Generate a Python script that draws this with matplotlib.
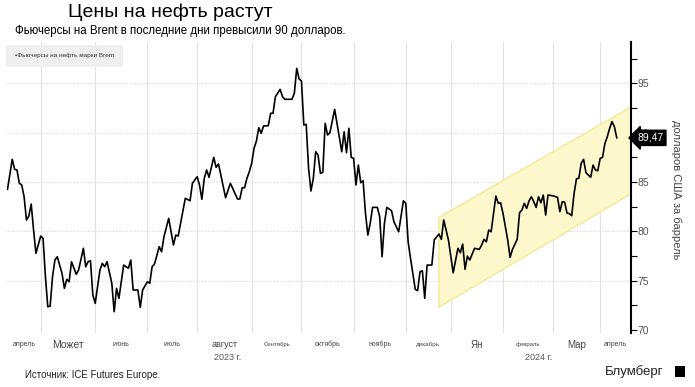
import numpy as np
import pandas as pd
import matplotlib.pyplot as plt
from matplotlib.patches import Polygon, Rectangle

# --- DATI ---
# calendario delle sedute ICE (giorni lavorativi senza festivita')
holidays = ["2023-12-25", "2023-12-26", "2024-01-01", "2024-03-29"]
days = pd.bdate_range("2023-04-11", "2024-04-30", freq="C", holidays=holidays)

# vertici della serie: numero di seduta dall'11 aprile 2023 e prezzo Brent
trade_day = [0, 2, 3, 4, 5, 6, 7, 8, 9, 10, 11, 12, 14, 15, 16, 17, 18, 19, 20, 21,
             23, 24, 25, 26, 27, 29, 30, 32, 33, 34, 35, 36, 37, 39, 40, 41, 42, 44, 45,
             46, 47, 49, 51, 52, 53, 55, 56, 57, 59, 60, 61, 62, 64, 65, 66, 68, 70, 71,
             72, 73, 75, 77, 78, 80, 81, 82, 83, 84, 85, 87, 88, 89, 90, 92, 94, 95, 97,
             98, 99, 100, 101, 102, 103, 104, 105, 106, 107, 108, 110, 111, 112, 113, 115,
             116, 117, 120, 121, 122, 123, 124, 125, 126, 127, 128, 129, 130, 131, 132,
             133, 134, 135, 136, 138, 141, 142, 143, 144, 145, 146, 147, 148, 149, 150,
             151, 152, 153, 154, 156, 157, 158, 159, 160, 162, 163, 165, 167, 168, 169,
             170, 172, 173, 174, 175, 176, 177, 179, 180, 182, 183, 184, 186, 188, 190,
             191, 192, 193, 194, 195, 197, 199, 200, 201, 202, 203, 204, 206, 207, 208,
             209, 211, 212, 213, 215, 216, 217, 218, 219, 220, 221, 222, 223, 224, 225,
             226, 227, 228, 230, 232, 233, 234, 235, 236, 237, 238, 239, 240, 241, 242,
             243, 244, 246, 247, 248, 249, 250, 251, 252, 253, 254, 255, 256, 257]
brent = [84.25, 87.29, 86.28, 86.21, 84.86, 84.69, 83.50, 81.14, 81.54, 82.76, 80.12,
         77.76, 79.51, 79.28, 75.39, 72.34, 72.41, 75.39, 77.08, 77.41, 75.73, 74.21,
         75.12, 74.88, 76.91, 75.63, 76.07, 78.27, 76.40, 76.91, 77.01, 73.53, 72.69,
         76.07, 76.74, 76.40, 76.91, 74.72, 71.84, 74.21, 73.19, 76.57, 76.24, 77.08,
         74.04, 74.04, 72.28, 74.04, 74.88, 74.72, 76.40, 76.67, 78.43, 77.92, 79.44,
         81.31, 78.60, 79.61, 79.51, 80.80, 83.34, 83.09, 84.86, 85.53, 84.69, 83.24,
         85.37, 86.21, 85.47, 87.49, 86.48, 86.82, 85.70, 83.40, 84.86, 84.35, 83.27,
         83.27, 84.41, 84.41, 85.37, 86.03, 86.89, 88.41, 89.15, 90.50, 89.93, 90.67,
         90.70, 91.96, 91.96, 93.64, 94.39, 93.64, 93.38, 93.38, 93.99, 96.52, 95.44,
         95.23, 90.77, 90.84, 86.38, 84.08, 85.37, 88.06, 87.73, 85.87, 85.97, 90.94,
         89.76, 89.99, 92.36, 88.06, 90.09, 87.96, 90.44, 87.49, 87.39, 84.69, 86.71,
         84.92, 85.12, 81.82, 79.61, 80.80, 82.42, 82.42, 81.47, 77.41, 80.80, 82.42,
         82.08, 80.96, 79.95, 83.09, 82.83, 78.93, 77.25, 74.11, 73.97, 75.89, 75.99,
         73.19, 76.57, 76.57, 79.11, 79.72, 79.18, 81.14, 79.11, 75.79, 78.27, 77.82,
         78.70, 76.14, 77.48, 77.08, 78.27, 78.16, 78.60, 79.18, 78.93, 80.12, 79.95,
         83.57, 82.83, 82.89, 81.82, 79.11, 77.35, 78.16, 79.18, 81.88, 82.15, 82.83,
         82.32, 83.09, 83.50, 82.99, 82.42, 83.50, 82.89, 83.67, 81.64, 83.67, 83.60,
         83.44, 81.98, 82.99, 82.96, 81.85, 81.78, 81.58, 83.84, 85.32, 85.37, 86.89,
         87.29, 85.93, 85.47, 86.71, 86.21, 86.14, 87.39, 87.49, 88.91, 89.58, 90.44,
         91.11, 90.60, 89.47]

# canale rialzista (inizio/fine in sedute, bordo superiore e inferiore)
channel_day = [182, 263]
channel_top = [81.4, 92.6]
channel_bottom = [72.3, 83.8]

month_labels = ["апрель", "Может", "июнь", "июль", "август", "Сентябрь", "октябрь",
                "ноябрь", "декабрь", "Ян", "февраль", "Мар", "апрель"]
month_sizes = [5, 7.5, 5, 5, 6.5, 4.3, 5, 5, 4.5, 7, 4.3, 7, 5]
year_labels = ["2023 г.", "2024 г."]
year_day = [93, 224]

last_value = brent[-1]
x_max = 263

plt.rcParams["font.family"] = ["Liberation Sans", "DejaVu Sans"]

fig = plt.figure(figsize=(6.95, 3.87), dpi=100)
ax = fig.add_axes([0.0101, 0.1395, 0.8978, 0.752])

# canale giallo
poly = [(channel_day[0], channel_bottom[0]), (channel_day[1], channel_bottom[1]),
        (channel_day[1], channel_top[1]), (channel_day[0], channel_top[0])]
ax.add_patch(Polygon(poly, closed=True, facecolor="#fcf8cc", edgecolor="#f2eca0",
                     lw=1.2, zorder=1))

ax.plot(trade_day, brent, color="black", lw=1.2, zorder=3)

# griglia mensile sui primi giorni di borsa di ogni mese
first_idx = pd.Series(np.arange(len(days)), index=days).groupby(
    [days.year, days.month]).first().values
first_idx = [i for i in first_idx if 0 < i < x_max]
for i in first_idx:
    ax.axvline(i, color="#e2e2e2", lw=0.8, zorder=0)
for v in [75, 80, 85, 90, 95]:
    ax.axhline(v, color="#d6d6d6", lw=0.8, ls=(0, (1, 1.5)), zorder=0)

ax.set_xlim(-0.2, x_max)
ax.set_ylim(69.68, 99.19)

for s in ["left", "top", "bottom"]:
    ax.spines[s].set_visible(False)
ax.spines["right"].set_linewidth(1.5)
ax.yaxis.tick_right()
ax.set_yticks([70, 75, 80, 85, 90, 95])
ax.set_yticks(np.arange(72.5, 99, 5), minor=True)
ax.tick_params(axis="y", which="both", direction="out", length=4, width=0.8,
               labelsize=7.5, labelcolor="#555555", pad=1)
ax.set_xticks([])

# etichette dei mesi centrate nel mese
bounds = [0] + first_idx + [x_max]
for k, lab in enumerate(month_labels):
    c = (bounds[k] + bounds[k + 1]) / 2
    ax.text(c, -0.04, lab, transform=ax.get_xaxis_transform(), ha="center",
            va="center", fontsize=month_sizes[k], color="#444444")
for lab, d in zip(year_labels, year_day):
    ax.text(d, -0.083, lab, transform=ax.get_xaxis_transform(), ha="center",
            va="center", fontsize=6.5, color="#555555")

# valore finale
ax.text(1.01, last_value, "89,47", transform=ax.get_yaxis_transform(), ha="left",
        va="center", fontsize=7.5, color="white",
        bbox=dict(boxstyle="larrow,pad=0.25", fc="black", ec="black"), zorder=5)

# legenda
ax.text(0.012, 0.952, "•Фьючерсы на нефть марки Brent", transform=ax.transAxes,
        fontsize=4.6, color="#333333", va="center", ha="left",
        bbox=dict(boxstyle="square,pad=1.4", fc="#efefef", ec="none"))

fig.text(0.973, 0.509, "долларов США за баррель", rotation=270, ha="center",
         va="center", fontsize=8, color="#444444")

fig.text(0.0975, 0.968, "Цены на нефть растут", fontsize=14, ha="left", va="center")
fig.text(0.021, 0.92, "Фьючерсы на Brent в последние дни превысили 90 долларов.",
         fontsize=8.3, ha="left", va="center")
fig.text(0.036, 0.031, "Источник: ICE Futures Europe.", fontsize=7, ha="left",
         va="center", color="#222222")
fig.text(0.955, 0.041, "Блумберг", fontsize=9.5, ha="right", va="center",
         color="#222222")
fig.patches.append(Rectangle((0.971, 0.027), 0.014, 0.028, transform=fig.transFigure,
                             facecolor="black", edgecolor="none"))

fig.savefig("out.png", dpi=100)
